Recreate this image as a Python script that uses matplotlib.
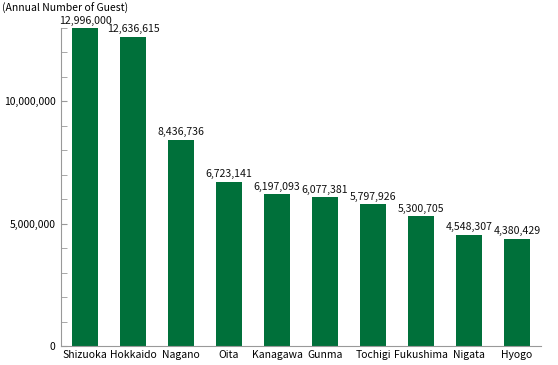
import matplotlib
matplotlib.use("Agg")
import matplotlib.pyplot as plt
from matplotlib.ticker import MultipleLocator, FuncFormatter

prefectures = ["Shizuoka", "Hokkaido", "Nagano", "Oita", "Kanagawa", "Gunma",
               "Tochigi", "Fukushima", "Nigata", "Hyogo"]
guests = [12996000, 12636615, 8436736, 6723141, 6197093, 6077381,
          5797926, 5300705, 4548307, 4380429]
yticks = [0, 5000000, 10000000]

plt.rcParams['font.family'] = ['Noto Sans CJK JP', 'DejaVu Sans']

fig = plt.figure(figsize=(5.58, 3.65), dpi=100)
ax = fig.add_axes([61/558, 19/365, 480/558, 318/365])

x = range(len(prefectures))
ax.bar(x, guests, width=0.54, color='#00703a', zorder=2)
for xi, v in zip(x, guests):
    ax.text(xi, v + 100000, f"{v:,}", ha='center', va='bottom', fontsize=7.6, color='#111111')

ax.set_xlim(-0.5, len(prefectures) - 0.5)
ax.set_ylim(0, 13000000)
ax.set_xticks(list(x))
ax.set_xticklabels(prefectures, fontsize=7.5)
ax.set_yticks(yticks)
ax.yaxis.set_major_formatter(FuncFormatter(lambda v, p: f"{int(v):,}"))
ax.yaxis.set_minor_locator(MultipleLocator(1000000))
ax.tick_params(axis='y', which='both', direction='in', length=4, color='#999999', labelsize=7.5, pad=4)
ax.tick_params(axis='x', length=0, pad=3)
for s in ['top', 'right']:
    ax.spines[s].set_visible(False)
ax.spines['left'].set_color('#999999')
ax.spines['bottom'].set_color('#999999')

fig.text(2/558, 1 - 8/365, "(Annual Number of Guest)", fontsize=7.5, va='center', ha='left')

fig.savefig("out.png", dpi=100)
